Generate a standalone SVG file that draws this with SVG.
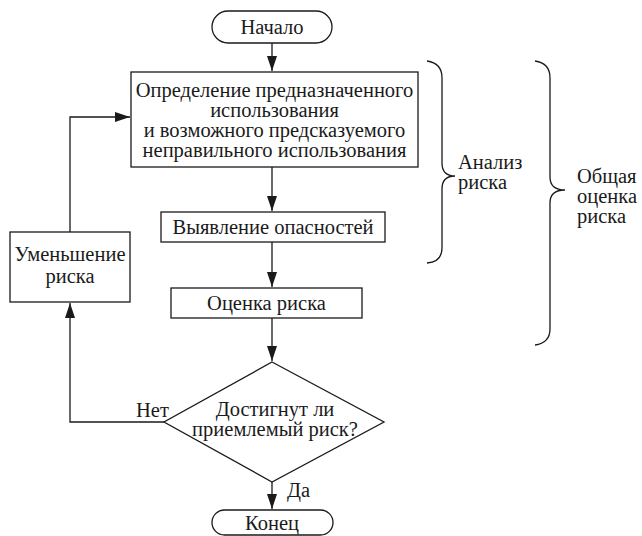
<svg xmlns="http://www.w3.org/2000/svg" width="642" height="536" viewBox="0 0 642 536" font-family="Liberation Serif, Times New Roman, serif">
<defs>
<marker id="arr" markerWidth="15" markerHeight="10" refX="15" refY="5" orient="auto" markerUnits="userSpaceOnUse">
<path d="M0,0 L15,5 L0,10 z" fill="#1a1a1a"/>
</marker>
<style>
.box{fill:#fff;stroke:#1a1a1a;stroke-width:1.3}
.t{font-size:20.5px;fill:#1a1a1a}
.c{text-anchor:middle}
.ln{fill:none;stroke:#1a1a1a;stroke-width:1.3}
</style>
</defs>
<rect width="642" height="536" fill="#fff"/>
<g id="connectors">
<path class="ln" d="M272,43 V71" marker-end="url(#arr)"/>
<path class="ln" d="M272,167 V211" marker-end="url(#arr)"/>
<path class="ln" d="M272,242 V287" marker-end="url(#arr)"/>
<path class="ln" d="M272,318 V361" marker-end="url(#arr)"/>
<path class="ln" d="M272,482 V509" marker-end="url(#arr)"/>
<path class="ln" d="M164,422 H70 V303" marker-end="url(#arr)"/>
<path class="ln" d="M70,232 V117 H130" marker-end="url(#arr)"/>
<text class="t" x="136" y="417" font-family="Liberation Serif, serif">Нет</text>
<text class="t" x="287" y="497" font-family="Liberation Serif, serif">Да</text>
</g>
<g id="start">
<rect class="box" x="212" y="11" width="120" height="32" rx="16"/>
<text class="t c" x="272" y="34" font-family="Liberation Serif, serif">Начало</text>
</g>
<g id="define">
<rect class="box" x="131" y="72" width="287" height="95"/>
<text class="t c" x="274.5" y="97" font-family="Liberation Serif, serif">Определение предназначенного</text>
<text class="t c" x="274.5" y="117" font-family="Liberation Serif, serif">использования</text>
<text class="t c" x="274.5" y="137" font-family="Liberation Serif, serif">и возможного предсказуемого</text>
<text class="t c" x="274.5" y="157" font-family="Liberation Serif, serif">неправильного использования</text>
</g>
<g id="hazards">
<rect class="box" x="161" y="212" width="224" height="30"/>
<text class="t c" x="273" y="234" font-family="Liberation Serif, serif">Выявление опасностей</text>
</g>
<g id="estimate">
<rect class="box" x="171" y="288" width="191" height="30"/>
<text class="t c" x="266.5" y="310" font-family="Liberation Serif, serif">Оценка риска</text>
</g>
<g id="reduce">
<rect class="box" x="10" y="232" width="120" height="70"/>
<text class="t c" x="70" y="261" font-family="Liberation Serif, serif">Уменьшение</text>
<text class="t c" x="70" y="283" font-family="Liberation Serif, serif">риска</text>
</g>
<g id="decision">
<path class="box" d="M272,362 L384,422 L272,482 L164,422 Z"/>
<text class="t c" x="275" y="416" font-family="Liberation Serif, serif">Достигнут ли</text>
<text class="t c" x="275" y="436" font-family="Liberation Serif, serif">приемлемый риск?</text>
</g>
<g id="end">
<rect class="box" x="212" y="510" width="121" height="25" rx="12.5"/>
<text class="t c" x="272" y="530" font-family="Liberation Serif, serif">Конец</text>
</g>
<g id="analysis">
<path class="ln" d="M427,61 Q442,63 442,78 V163 Q442,176 455,176 Q442,176 442,189 V248 Q442,262 427,263"/>
<text class="t" x="458" y="169" font-family="Liberation Serif, serif">Анализ</text>
<text class="t" x="458" y="189" font-family="Liberation Serif, serif">риска</text>
</g>
<g id="assessment">
<path class="ln" d="M535,61 Q550,63 550,78 V177 Q550,190 565,190 Q550,190 550,203 V329 Q550,343 535,345"/>
<text class="t" x="577" y="183" font-family="Liberation Serif, serif">Общая</text>
<text class="t" x="577" y="203" font-family="Liberation Serif, serif">оценка</text>
<text class="t" x="577" y="223" font-family="Liberation Serif, serif">риска</text>
</g>
</svg>
